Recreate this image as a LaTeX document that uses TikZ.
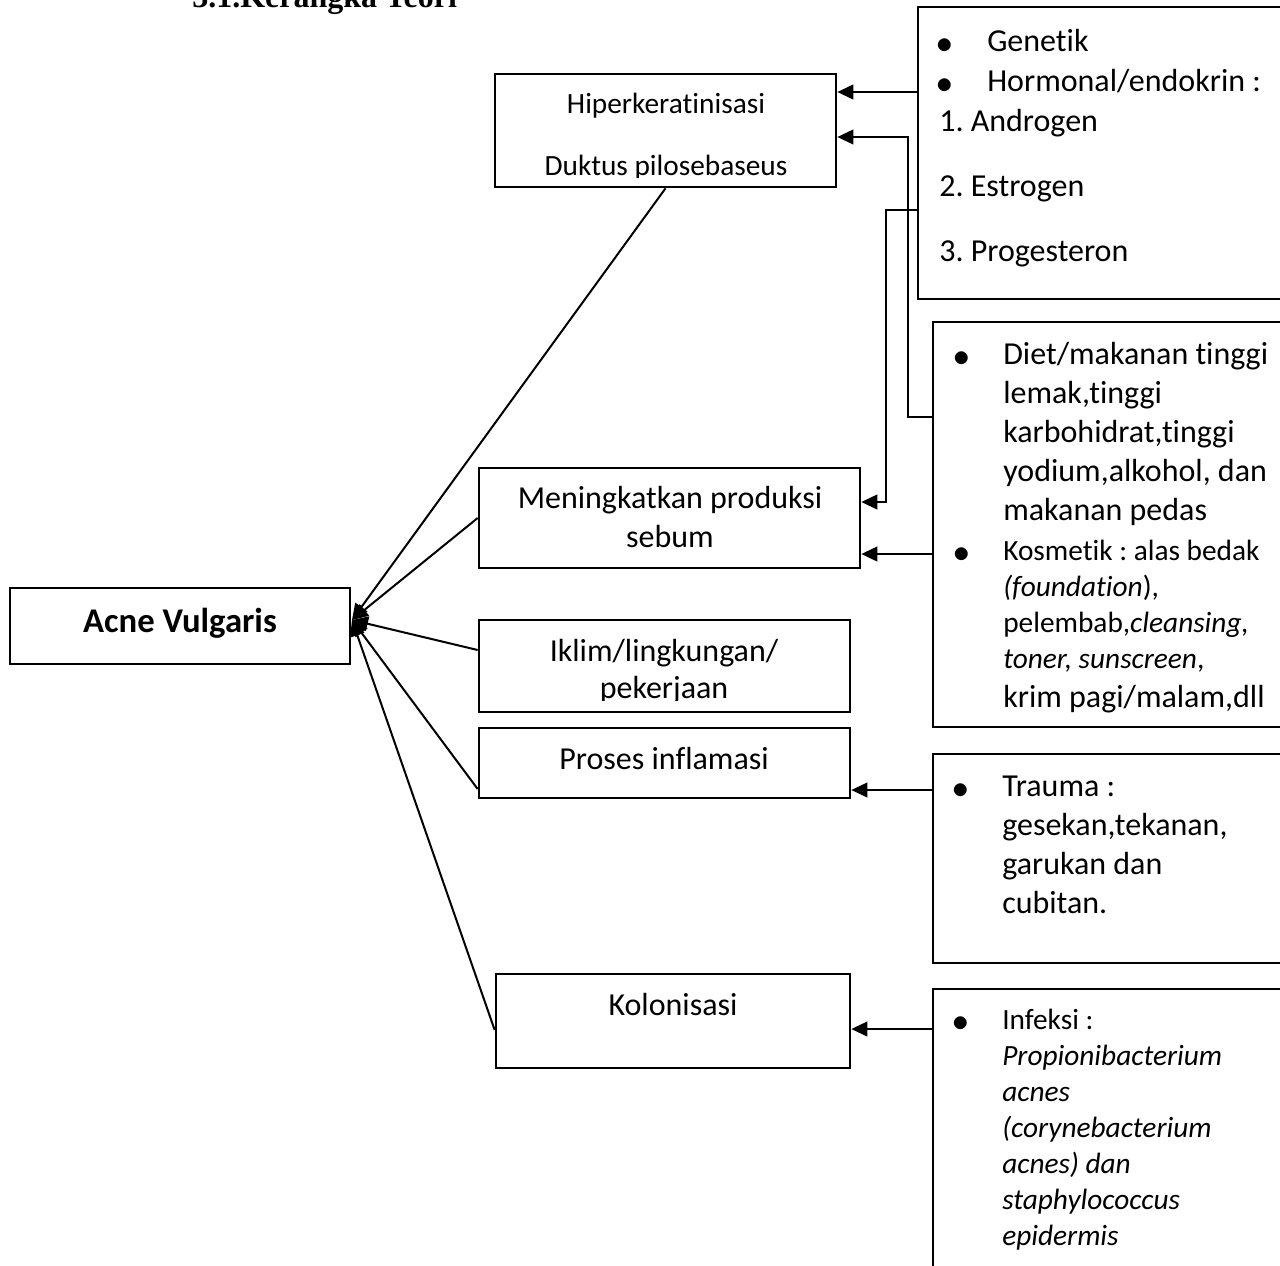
\documentclass[tikz,border=0pt]{standalone}
\usepackage{fontspec}
\setmainfont{Carlito}[RawFeature={-liga;-clig;-calt;-dlig}]
\newfontfamily\titlefont{Liberation Serif}
\usetikzlibrary{arrows.meta,fit}
\frenchspacing

\begin{document}
\begin{tikzpicture}[x=0.75pt,y=0.75pt,yscale=-1,xscale=1,
  box/.style={draw,line width=2pt,inner sep=0pt},
  conn/.style={line width=1.5pt,-{Triangle[length=12pt,width=11pt]}},
  big/.style={font=\fontsize{24}{29}\selectfont,inner sep=0pt,anchor=base west},
  small/.style={font=\fontsize{22}{27}\selectfont,inner sep=0pt,anchor=base west},
  mid/.style={inner sep=0pt,anchor=base},
  dot/.style={font=\fontsize{29}{34}\selectfont,inner sep=0pt,anchor=base}]
\useasboundingbox (0,0) rectangle (1280,1265);
\clip (0,0) rectangle (1280,1265);

% Text Node
\node[anchor=base west,inner sep=0pt,font=\titlefont\fontsize{24}{29}\bfseries\selectfont] (title) at (192,7) {3.1.Kerangka Teori};

%Boxes
\node[box,fit={(10,588) (350,664)}] (acne) {};
\node[box,fit={(495,74) (836,187)}] (hiper) {};
\node[box,fit={(479,468) (860,568)}] (mening) {};
\node[box,fit={(479,620) (850,712)}] (iklim) {};
\node[box,fit={(479,728) (850,798)}] (proses) {};
\node[box,fit={(496,974) (850,1068)}] (kolon) {};
\node[box,fit={(918,7) (1300,299)}] (genetik) {};
\node[box,fit={(933,322) (1300,727)}] (diet) {};
\node[box,fit={(933,754) (1300,963)}] (trauma) {};
\node[box,fit={(933,989) (1300,1300)}] (infeksi) {};

% Text Node
\node[mid,font=\fontsize{26}{31}\bfseries\selectfont] (acneT) at (180,632) {Acne Vulgaris};
% Text Node
\begin{scope}
\clip (hiper.north west) rectangle (836,177);
\node[mid,font=\fontsize{22}{27}\selectfont] (hiperA) at (666,113) {Hiperkeratinisasi};
\node[mid,font=\fontsize{22}{27}\selectfont] (hiperB) at (666,175) {Duktus pilosebaseus};
\end{scope}
% Text Node
\node[mid,font=\fontsize{24}{29}\selectfont] (meningA) at (670,508) {Meningkatkan produksi};
\node[mid,font=\fontsize{24}{29}\selectfont] (meningB) at (670,547) {sebum};
% Text Node
\begin{scope}
\clip (iklim.north west) rectangle (850,700);
\node[mid,font=\fontsize{24}{29}\selectfont] (iklimA) at (664,661) {Iklim/lingkungan/};
\node[mid,font=\fontsize{24}{29}\selectfont] (iklimB) at (664,698) {pekerjaan};
\end{scope}
% Text Node
\node[mid,font=\fontsize{24}{29}\selectfont] (prosesT) at (664,769) {Proses inflamasi};
% Text Node
\node[mid,font=\fontsize{24}{29}\selectfont] (kolonT) at (673,1015) {Kolonisasi};

% Text Node
\node[dot] (genDotA) at (945,53) {$\bullet$};
\node[big] (genA) at (987,51) {Genetik};
\node[dot] (genDotB) at (945,93) {$\bullet$};
\node[big] (genB) at (987,91) {Hormonal/endokrin :};
\node[big] (genC) at (939,131) {1. Androgen};
\node[big] (genD) at (939,196) {2. Estrogen};
\node[big] (genE) at (939,261) {3. Progesteron};

% Text Node
\node[dot] (dietDotA) at (962,366) {$\bullet$};
\node[big] (dietA) at (1003,364) {Diet/makanan tinggi};
\node[big] (dietB) at (1003,403) {lemak,tinggi};
\node[big] (dietC) at (1003,442) {karbohidrat,tinggi};
\node[big] (dietD) at (1003,481) {yodium,alkohol, dan};
\node[big] (dietE) at (1003,520) {makanan pedas};
\node[dot] (dietDotB) at (962,562) {$\bullet$};
\node[small] (dietF) at (1003,560) {Kosmetik : alas bedak};
\node[small] (dietG) at (1003,596) {\textit{(foundation}),};
\node[small] (dietH) at (1003,632) {pelembab,\textit{cleansing,}};
\node[small] (dietI) at (1003,668) {\textit{toner, sunscreen},};
\node[big] (dietJ) at (1003,707) {krim pagi/malam,dll};

% Text Node
\node[dot] (traumaDot) at (961,798) {$\bullet$};
\node[big] (traumaA) at (1002,796) {Trauma :};
\node[big] (traumaB) at (1002,835) {gesekan,tekanan,};
\node[big] (traumaC) at (1002,874) {garukan dan};
\node[big] (traumaD) at (1002,913) {cubitan.};

% Text Node
\node[dot] (infDot) at (961,1031) {$\bullet$};
\node[small] (infA) at (1002,1029) {Infeksi :};
\node[small,font=\fontsize{22}{27}\itshape] (infB) at (1002,1065) {Propionibacterium};
\node[small,font=\fontsize{22}{27}\itshape] (infC) at (1002,1101) {acnes};
\node[small,font=\fontsize{22}{27}\itshape] (infD) at (1002,1137) {(corynebacterium};
\node[small,font=\fontsize{22}{27}\itshape] (infE) at (1002,1173) {acnes) dan};
\node[small,font=\fontsize{22}{27}\itshape] (infF) at (1002,1209) {staphylococcus};
\node[small,font=\fontsize{22}{27}\itshape] (infG) at (1002,1245) {epidermis};

%Straight Lines
\coordinate (tip) at (352,620);
\draw[conn] (hiper.south) -- (tip);
\draw[conn] (mening.west) -- (tip);
\draw[conn] (iklim.west |- 0,650) -- (tip);
\draw[conn] (proses.west |- 0,789) -- (tip);
\draw[conn] (kolon.west |- 0,1030) -- (tip);

%Straight Lines
\draw[conn] (genetik.west |- 0,92) -- (hiper.east |- 0,92);
\draw[conn] (diet.west |- 0,417) -| (908,137) -- (hiper.east |- 0,137);
\draw[conn] (genetik.west |- 0,210) -| (886,502) -- (mening.east |- 0,502);
\draw[conn] (diet.west |- 0,554) -- (mening.east |- 0,554);
\draw[conn] (trauma.west |- 0,790) -- (proses.east |- 0,790);
\draw[conn] (infeksi.west |- 0,1029) -- (kolon.east |- 0,1029);

\end{tikzpicture}
\end{document}
